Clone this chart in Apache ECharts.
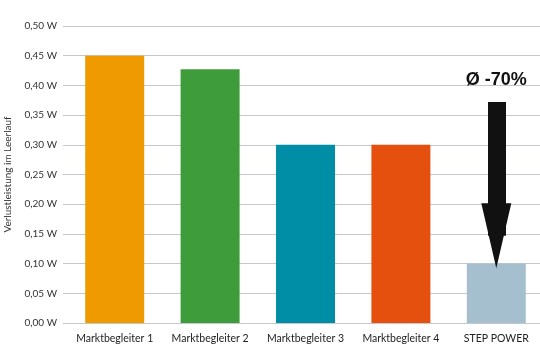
<!DOCTYPE html>
<html><head><meta charset="utf-8">
<script src="https://cdn.jsdelivr.net/npm/echarts@6/dist/echarts.min.js"></script>
<style>html,body{margin:0;padding:0;background:#fff}#c{width:540px;height:346px}</style>
</head><body><div id="c"></div>
<script>
const categories = ['Marktbegleiter 1', 'Marktbegleiter 2', 'Marktbegleiter 3', 'Marktbegleiter 4', 'STEP POWER'];
const values = [0.45, 0.427, 0.30, 0.30, 0.10];
const barColors = ['#ef9b00', '#3e9d3a', '#008ea6', '#e5500f', '#a6bfcf'];
const yTicks = [0, 0.05, 0.10, 0.15, 0.20, 0.25, 0.30, 0.35, 0.40, 0.45, 0.50];
const arrowFrom = 0.372, arrowTo = 0.147;
const annotation = 'Ø -70%';
const annotationValue = 0.409;
const yName = 'Verlustleistung im Leerlauf';

const font = 'Lato, "Open Sans", sans-serif';
const chart = echarts.init(document.getElementById('c'), null, {renderer: 'canvas'});
chart.setOption({
  animation: false,
  grid: {left: 67, right: -4, top: 26, bottom: 23, containLabel: false, outerBoundsMode: 'none'},
  xAxis: {
    type: 'category', data: categories,
    axisLine: {show: false}, axisTick: {show: false},
    axisLabel: {color: '#222', fontSize: 10.5, fontFamily: font, margin: 10, interval: 0, hideOverlap: false}
  },
  yAxis: {
    type: 'value', min: 0, max: 0.5, interval: 0.05,
    name: yName, nameLocation: 'middle', nameRotate: 90, nameGap: 54,
    nameTextStyle: {color: '#333', fontSize: 10, fontFamily: font},
    axisLine: {show: false},
    axisTick: {show: true, length: 4, lineStyle: {color: '#c4c8cc'}},
    splitLine: {lineStyle: {color: '#c4c8cc', width: 1}},
    axisLabel: {color: '#333', fontSize: 10, fontFamily: font, margin: 10,
      formatter: v => v.toFixed(2).replace('.', ',') + ' W'}
  },
  series: [{
    type: 'bar', barWidth: 59,
    data: values.map((v, i) => ({value: v, itemStyle: {color: barColors[i]}})),
    markLine: {
      silent: true, symbol: ['none', 'triangle'], symbolSize: [30, 65],
      label: {show: false},
      lineStyle: {color: '#111', width: 18, type: 'solid'},
      itemStyle: {color: '#111'},
      data: [[{coord: [4, arrowFrom]}, {coord: [4, arrowTo]}]]
    },
    markPoint: {
      silent: true, symbol: 'rect', symbolSize: 0,
      label: {show: true, position: 'inside', formatter: annotation, color: '#111',
        fontSize: 18, fontWeight: 'bold', fontFamily: 'Liberation Sans, Arial, sans-serif'},
      data: [{coord: [4, annotationValue]}]
    }
  }]
});
</script></body></html>
